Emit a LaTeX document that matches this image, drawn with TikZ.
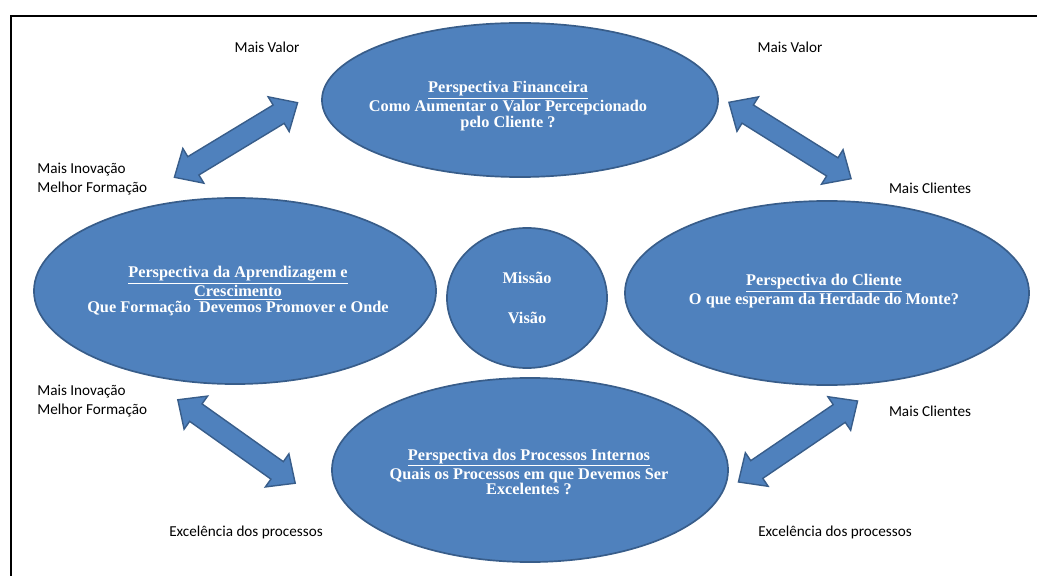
\documentclass[tikz,border=0pt]{standalone}
\usepackage{fontspec}
\setmainfont{Liberation Serif}
\newfontfamily\rotulofont{Carlito}
\usetikzlibrary{shapes.geometric,shapes.arrows}
\definecolor{azulbsc}{HTML}{4F81BD}
\definecolor{azulborda}{HTML}{385D8A}
\tikzset{
  persp/.style={ellipse, draw=azulborda, fill=azulbsc, line width=1.2pt, inner sep=0pt},
  ptexto/.style={text=white, font=\fontsize{11.6}{11.2}\selectfont\bfseries, align=center},
  rotulo/.style={font=\rotulofont\fontsize{10.8}{13}\selectfont, align=left, inner sep=0pt},
  flecha/.style={double arrow, draw=azulborda, fill=azulbsc, line width=1pt, inner sep=0pt,
    inner ysep=0.25cm, double arrow head extend=0.24cm, double arrow tip angle=85,
    minimum width=0.98cm, minimum height=3.6cm}
}
\begin{document}
\begin{tikzpicture}[x=0.025cm, y=-0.025cm]
    \useasboundingbox (0,0) rectangle (1037,576) ;
    \draw [line width=1.4pt] (11,576) -- (11,16) -- (1037,16) ;

    % perspectivas
    \node [persp, minimum width=9.9cm, minimum height=3.85cm] (fin) at (520,100) {} ;
    \node [ptexto] (fintxt) at (508,106) {\underline{Perspectiva Financeira}\\Como Aumentar o Valor Percepcionado\\pelo Cliente ?} ;
    \node [persp, minimum width=10.05cm, minimum height=4.65cm] (apr) at (235,291) {} ;
    \node [ptexto] (aprtxt) at (238,291) {\underline{Perspectiva da Aprendizagem e}\\\underline{Crescimento}\\Que Formação\ \ Devemos Promover e Onde} ;
    \node [persp, minimum width=10.1cm, minimum height=4.6cm] (cli) at (827,293) {} ;
    \node [ptexto] (clitxt) at (824,291) {\underline{Perspectiva do Cliente}\\O que esperam da Herdade do Monte?} ;
    \node [persp, minimum width=9.9cm, minimum height=4.6cm] (proc) at (530,470) {} ;
    \node [ptexto] (proctxt) at (529,472) {\underline{Perspectiva dos Processos Internos}\\Quais os Processos em que Devemos Ser\\Excelentes ?} ;
    \node [persp, ptexto, minimum width=4cm, minimum height=3.5cm] (mv) at (527,298) {Missão\\[17pt]Visão} ;

    % setas
    \node [flecha, rotate=31.2] (s1) at (236,140) {} ;
    \node [flecha, rotate=-32] (s2) at (790,140.5) {} ;
    \node [flecha, rotate=-35.4] (s3) at (236.5,441.5) {} ;
    \node [flecha, rotate=34.2] (s4) at (798,441.5) {} ;

    % rotulos
    \node [rotulo] (r1) at (267,47) {Mais Valor} ;
    \node [rotulo] (r2) at (790,47) {Mais Valor} ;
    \node [rotulo, anchor=west] (r3) at (37,179) {Mais Inovação\\Melhor Formação} ;
    \node [rotulo] (r4) at (930,188) {Mais Clientes} ;
    \node [rotulo, anchor=west] (r5) at (37,401) {Mais Inovação\\Melhor Formação} ;
    \node [rotulo] (r6) at (930,411) {Mais Clientes} ;
    \node [rotulo] (r7) at (246,532) {Excelência dos processos} ;
    \node [rotulo] (r8) at (835,532) {Excelência dos processos} ;
\end{tikzpicture}
\end{document}
